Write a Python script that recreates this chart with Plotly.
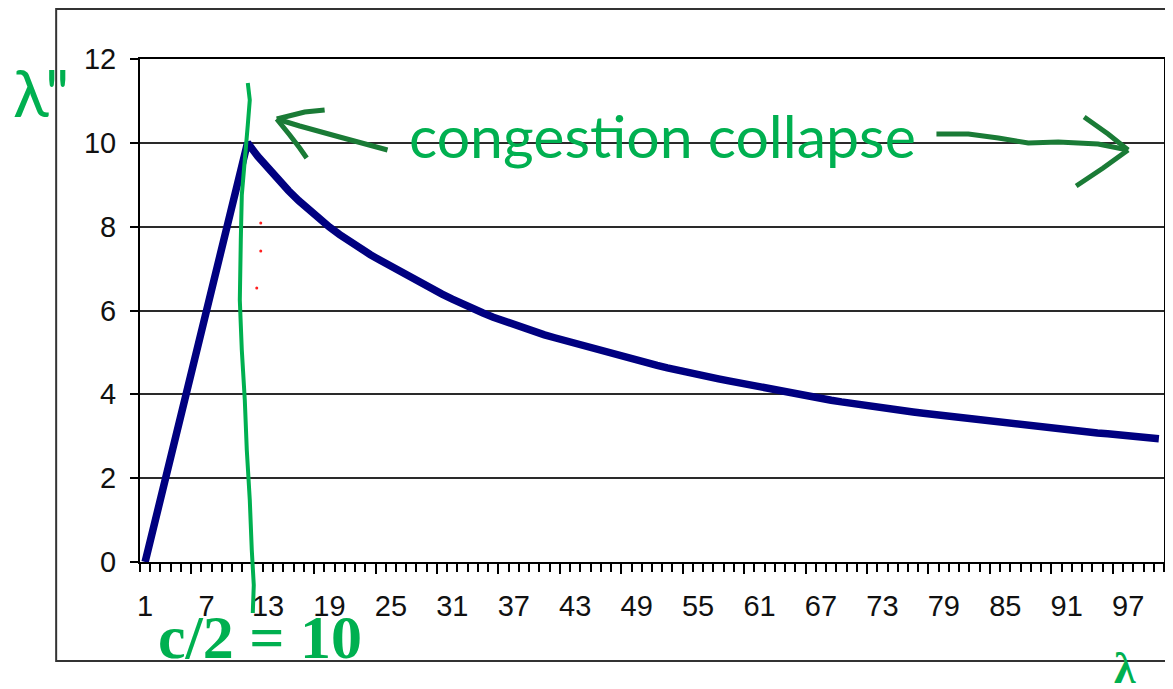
import plotly.graph_objects as go

# ---- data ----
categories = list(range(1, 101))
throughput = [
    0.0, 1.0, 2.0, 3.0, 4.0, 5.0, 6.0, 7.0, 8.0, 9.0,
    10.0, 9.68, 9.39, 9.12, 8.86, 8.62, 8.40, 8.19, 7.99, 7.81,
    7.64, 7.48, 7.33, 7.19, 7.05, 6.91, 6.77, 6.64, 6.51, 6.39,
    6.27, 6.15, 6.04, 5.94, 5.84, 5.75, 5.66, 5.58, 5.50, 5.42,
    5.35, 5.28, 5.21, 5.14, 5.07, 5.00, 4.93, 4.87, 4.81, 4.75,
    4.69, 4.63, 4.57, 4.52, 4.47, 4.42, 4.37, 4.32, 4.27, 4.22,
    4.17, 4.12, 4.07, 4.02, 3.98, 3.94, 3.90, 3.86, 3.82, 3.78,
    3.74, 3.70, 3.67, 3.64, 3.61, 3.58, 3.55, 3.52, 3.49, 3.46,
    3.43, 3.40, 3.38, 3.35, 3.32, 3.30, 3.27, 3.25, 3.22, 3.19,
    3.16, 3.13, 3.11, 3.08, 3.06, 3.03, 3.01, 2.99, 2.97, 2.94,
]
x_tick_labels = [str(v) for v in range(1, 101, 6)]
y_ticks = [0, 2, 4, 6, 8, 10, 12]
long_tick_pos = [v + 0.5 for v in range(5, 100, 6)]

# the page body adds an 8px margin, so the figure is drawn 8px smaller
OFF = 8
W, H = 1173 - OFF, 689 - OFF
L, R, T, B = 140, 1166, 59, 562   # plot area in reference pixels

def px(x, y):
    """reference pixel -> paper coords"""
    return (x - L) / (R - L), (B - y) / (B - T)

def path(points):
    s = ""
    for i, (x, y) in enumerate(points):
        u, v = px(x, y)
        s += ("M" if i == 0 else "L") + f"{u:.5f},{v:.5f} "
    return s.strip()

fig = go.Figure()
fig.add_trace(go.Scatter(
    x=categories, y=throughput, mode="lines",
    line=dict(color="#000080", width=7.5),
    hoverinfo="skip", showlegend=False,
))
# invisible helper trace so the long-tick axis is drawn
fig.add_trace(go.Scatter(
    x=categories[:1], y=throughput[:1], xaxis="x2", mode="markers",
    marker=dict(opacity=0), hoverinfo="skip", showlegend=False,
))

tick_font = dict(family="Liberation Sans, Arial, sans-serif", size=29, color="#111")

fig.update_layout(
    width=W, height=H,
    margin=dict(l=L - OFF, r=W - (R - OFF), t=T - OFF, b=H - (B - OFF), pad=0),
    paper_bgcolor="white", plot_bgcolor="white",
    showlegend=False,
    xaxis=dict(
        range=[0.5, 100.5], tickmode="array",
        tickvals=[int(t) for t in x_tick_labels], ticktext=x_tick_labels,
        ticks="outside", ticklen=0, tickfont=tick_font,
        ticklabelstandoff=17,
        showgrid=False, zeroline=False,
        showline=True, linecolor="#000", linewidth=2, mirror=True,
        minor=dict(ticks="outside", tick0=0.5, dtick=1, ticklen=8,
                   tickcolor="#000", tickwidth=1.5, showgrid=False),
    ),
    xaxis2=dict(
        range=[0.5, 100.5], overlaying="x", anchor="y", side="bottom",
        tickmode="array", tickvals=long_tick_pos, showticklabels=False,
        ticks="outside", ticklen=11, tickcolor="#000", tickwidth=1.5,
        showgrid=False, zeroline=False, showline=False,
    ),
    yaxis=dict(
        range=[0, 12], tickmode="array", tickvals=y_ticks,
        ticks="outside", ticklen=8, tickcolor="#000", tickwidth=2,
        tickfont=tick_font, ticklabelstandoff=8,
        showgrid=True, gridcolor="#2a2a2a", gridwidth=2,
        zeroline=False,
        showline=True, linecolor="#000", linewidth=2, mirror=True,
    ),
)

shapes = []
# outer chart frame (right edge off-canvas)
shapes.append(dict(type="path", xref="paper", yref="paper",
                   path=path([(1185, 9), (56, 9), (56, 661), (1185, 661)]),
                   line=dict(color="#333", width=2)))
# hand-drawn green vertical line
shapes.append(dict(type="path", xref="paper", yref="paper",
                   path=path([(248, 83), (250, 100), (248, 125), (245, 160), (242, 195),
                              (241, 240), (240, 300), (242, 350), (245, 400), (247, 450),
                              (250, 500), (252, 550), (254, 585), (253, 613)]),
                   line=dict(color="#00B050", width=4)))
ink = "#1A7B36"
# left arrow
shapes.append(dict(type="path", xref="paper", yref="paper",
                   path=path([(388, 150), (340, 137), (300, 126), (277, 119)]),
                   line=dict(color=ink, width=5)))
shapes.append(dict(type="path", xref="paper", yref="paper",
                   path=path([(325, 110), (305, 112), (277, 119)]),
                   line=dict(color=ink, width=5)))
shapes.append(dict(type="path", xref="paper", yref="paper",
                   path=path([(277, 119), (290, 135), (300, 148), (307, 158)]),
                   line=dict(color=ink, width=5)))
# right arrow
shapes.append(dict(type="path", xref="paper", yref="paper",
                   path=path([(938, 134), (970, 134), (1000, 138), (1030, 143),
                              (1060, 142), (1100, 144), (1130, 150)]),
                   line=dict(color=ink, width=5)))
shapes.append(dict(type="path", xref="paper", yref="paper",
                   path=path([(1086, 117), (1110, 134), (1130, 150)]),
                   line=dict(color=ink, width=5)))
shapes.append(dict(type="path", xref="paper", yref="paper",
                   path=path([(1130, 150), (1105, 168), (1078, 186)]),
                   line=dict(color=ink, width=5)))
# tiny red dots
for (dx, dy) in [(261, 223), (261, 251), (257, 288)]:
    u0, v0 = px(dx - 1.5, dy + 1.5)
    u1, v1 = px(dx + 1.5, dy - 1.5)
    shapes.append(dict(type="circle", xref="paper", yref="paper",
                       x0=u0, y0=v0, x1=u1, y1=v1,
                       fillcolor="#ff2020", line=dict(width=0)))
fig.update_layout(shapes=shapes)

green = "#00B050"
def ann(text, x, y, xanchor, yanchor, font):
    u, v = px(x, y)
    fig.add_annotation(text=text, xref="paper", yref="paper", x=u, y=v,
                       xanchor=xanchor, yanchor=yanchor, showarrow=False,
                       font=font)

ann("λ\"", 41, 92, "center", "middle", dict(family="Lato, Open Sans, sans-serif", size=66, color=green))
ann("congestion collapse", 408, 136, "left", "middle", dict(family="Lato, Open Sans, sans-serif", size=59, color=green))
ann("<b>c/2 = 10</b>", 156, 637, "left", "middle", dict(family="Liberation Serif, Times New Roman, serif", size=62, color=green))
ann("<b>λ</b>", 1127, 668, "center", "middle", dict(family="Liberation Serif, serif", size=44, color=green))

fig.write_html("out.html")
